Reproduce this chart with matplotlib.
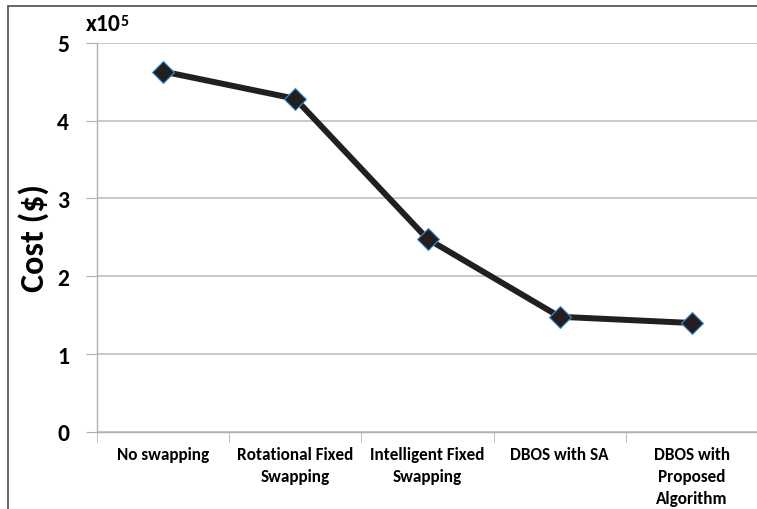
import matplotlib
matplotlib.use('Agg')
from matplotlib import pyplot as plt
from matplotlib.patches import Rectangle

font = {'family': ['Carlito', 'DejaVu Sans'],
        'weight': 'bold',
        'size': 10}
matplotlib.rc('font', **font)

methods = ['No swapping', 'Rotational Fixed\nSwapping', 'Intelligent Fixed\nSwapping',
           'DBOS with SA', 'DBOS with\nProposed\nAlgorithm']
cost = [4.63e5, 4.28e5, 2.48e5, 1.48e5, 1.40e5]
scale = 1e5
y_ticks = [0, 1, 2, 3, 4, 5]

fig = plt.figure(figsize=(7.57, 5.10), dpi=100)
ax = fig.add_axes([97/757, 1 - 433/510, 661/757, (433 - 43.7)/510])

x = range(len(methods))
ax.plot(x, [c / scale for c in cost], '-', color='#231f20', lw=4.3,
        marker='D', ms=11, mfc='#231f20', mec='#3d8fd1', mew=0.8, zorder=3)

ax.set_xlim(-0.5, len(methods) - 0.5)
ax.set_ylim(0, 5)
ax.set_yticks(y_ticks)
ax.set_yticklabels([str(t) for t in y_ticks], fontsize=17, fontweight='bold')
ax.yaxis.grid(True, color='#c0c0c0', lw=1.2)
ax.set_axisbelow(True)

# category labels sit between boundary ticks
ax.set_xticks(list(x))
ax.set_xticklabels(methods, fontsize=12.3, fontweight='bold', linespacing=1.45, va='top')
ax.tick_params(axis='x', length=0, pad=10)
ax.set_xticks([i - 0.5 for i in range(len(methods) + 1)], minor=True)
ax.tick_params(axis='x', which='minor', length=7, color='#b0b0b0', direction='out')
ax.tick_params(axis='y', length=8, color='#b0b0b0', direction='out', pad=12)

for s in ['top', 'right']:
    ax.spines[s].set_visible(False)
for s in ['left', 'bottom']:
    ax.spines[s].set_color('#b0b0b0')
    ax.spines[s].set_linewidth(1.0)

ax.set_ylabel('Cost ($)', fontsize=24.5, fontweight='bold', labelpad=6)

# scale factor with a superscript exponent placed right after the base
base = fig.text(86/757, 1 - 31/510, 'x10', fontsize=17, fontweight='bold',
                va='baseline', ha='left')
fig.canvas.draw()
bb = base.get_window_extent()
fig.text(bb.x1 / fig.bbox.width, 1 - 26/510, '5', fontsize=11.5, fontweight='bold',
         va='baseline', ha='left')

# chart border
fig.patches.append(Rectangle((8/757, -0.1), 1.2, 1 - 7/510 + 0.1, transform=fig.transFigure,
                             fill=False, ec='#5a5a5a', lw=1.3))

plt.savefig('out.png', dpi=100)
